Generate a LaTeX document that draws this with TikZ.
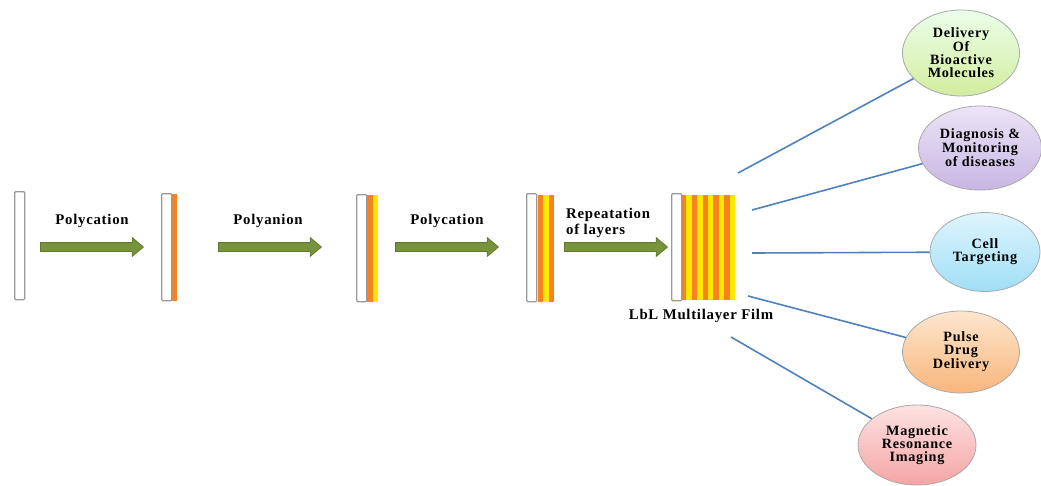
\documentclass[tikz,border=0pt]{standalone}
\usepackage{fontspec}
\setmainfont{Liberation Serif}[LetterSpace=5]
\usetikzlibrary{shapes.geometric,shapes.arrows}
\definecolor{plategray}{HTML}{9A9A9A}
\definecolor{lorange}{HTML}{F7821E}
\definecolor{lyellow}{HTML}{FFE800}
\definecolor{agreen}{HTML}{77933C}
\definecolor{agreenD}{HTML}{5E7A2A}
\definecolor{lblue}{HTML}{4F81BD}
\definecolor{elgray}{HTML}{A8A8A8}
\tikzset{
  plate/.style={draw=plategray, line width=1.3pt, fill=white, rounded corners=1pt, minimum width=10pt, minimum height=108pt, inner sep=0pt, anchor=north west},
  stripeO/.style={fill=lorange, draw=none},
  stripeY/.style={fill=lyellow, draw=none},
  blockarrow/.style={single arrow, fill=agreen, draw=agreenD, line width=0.8pt, inner xsep=0pt, inner ysep=4pt, single arrow head extend=5pt, single arrow tip angle=80, minimum height=103pt, anchor=west},
  lbl/.style={font=\bfseries\fontsize{14.8}{15}\selectfont, inner sep=0pt, text=black},
  app/.style={ellipse, draw=elgray, line width=0.8pt, inner sep=0pt, align=center, font=\bfseries\fontsize{14.2}{12.9}\selectfont, text=black},
  link/.style={draw=lblue, line width=1.6pt}
}
\begin{document}
\begin{tikzpicture}[x=1pt,y=-1pt]
\useasboundingbox (0,0) rectangle (1041,485);
% plates
\node[plate] (p1) at (14,191) {};
\fill[stripeO] (171,194) rectangle (177,301);
\node[plate, minimum height=107pt] (p2) at (161,193) {};
\fill[stripeO] (367,195) rectangle (373,302);
\fill[stripeY] (373,195) rectangle (378,302);
\node[plate, minimum height=107pt] (p3) at (356,194) {};
\fill[stripeO] (538,195) rectangle (543,302);
\fill[stripeY] (543,195) rectangle (549,302);
\fill[stripeO] (549,195) rectangle (554,302);
\node[plate, minimum height=108pt] (p4) at (526,193) {};
% final film
\foreach \i in {0,...,9}{
  \pgfmathsetmacro{\xa}{681+\i*5.4}
  \pgfmathsetmacro{\xb}{681+(\i+1)*5.4}
  \ifodd\i
    \fill[stripeY] (\xa,195) rectangle (\xb,300);
  \else
    \fill[stripeO] (\xa,195) rectangle (\xb,300);
  \fi
}
\node[plate, minimum height=107pt] (p5) at (671,193) {};
% arrows
\node[blockarrow] (a1) at (40,247) {};
\node[blockarrow] (a2) at (218,247) {};
\node[blockarrow] (a3) at (395,247) {};
\node[blockarrow] (a4) at (564,247) {};
% labels
\node[lbl] (t1) at (92,221) {Polycation};
\node[lbl] (t2) at (268,221) {Polyanion};
\node[lbl] (t3) at (447,221) {Polycation};
\node[lbl, align=left, anchor=north west, font=\bfseries\fontsize{14.8}{16}\selectfont] (t4) at (566,208) {Repeatation\\of\ layers};
\node[lbl] (t5) at (701,316) {LbL Multilayer Film};
% applications
\node[app, minimum width=117pt, minimum height=86pt, top color=green!8!white, bottom color={rgb,255:red,210;green,237;blue,158}] (e1) at (961,53) {Delivery\\Of\\Bioactive\\Molecules};
\node[app, minimum width=123pt, minimum height=84pt, top color={rgb,255:red,236;green,228;blue,246}, bottom color={rgb,255:red,200;green,182;blue,228}] (e2) at (980,148) {Diagnosis \&\\Monitoring\\of diseases};
\node[app, minimum width=110pt, minimum height=79pt, top color={rgb,255:red,222;green,245;blue,253}, bottom color={rgb,255:red,160;green,222;blue,246}] (e3) at (985,252) {Cell\\Targeting};
\node[app, minimum width=117pt, minimum height=82pt, top color={rgb,255:red,253;green,230;blue,206}, bottom color={rgb,255:red,248;green,182;blue,124}] (e4) at (961,352) {Pulse\\Drug\\Delivery};
\node[app, minimum width=118pt, minimum height=80pt, top color={rgb,255:red,253;green,226;blue,226}, bottom color={rgb,255:red,245;green,165;blue,165}] (e5) at (917,445) {Magnetic\\Resonance\\Imaging};
% link start points
\coordinate (s1) at (738,173);
\coordinate (s2) at (752,210);
\coordinate (s3) at (752,253);
\coordinate (s4) at (748,296);
\coordinate (s5) at (731,337);
\draw[link] (s1) -- (e1);
\draw[link] (s2) -- (e2);
\draw[link] (s3) -- (e3);
\draw[link] (s4) -- (e4);
\draw[link] (s5) -- (e5);
\end{tikzpicture}
\end{document}
